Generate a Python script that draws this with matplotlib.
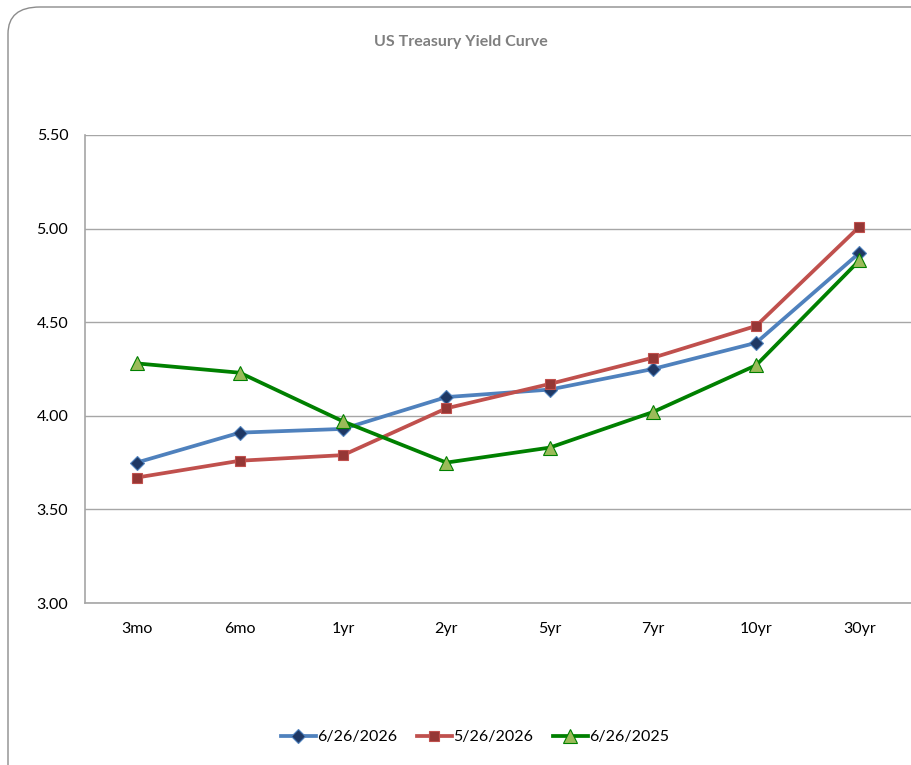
import numpy as np
import matplotlib
matplotlib.use('Agg')
import matplotlib.pyplot as plt
from matplotlib.patches import FancyBboxPatch

plt.rcParams['font.family'] = ['Lato', 'DejaVu Sans']

# tenors and yields
tenors = ['3mo', '6mo', '1yr', '2yr', '5yr', '7yr', '10yr', '30yr']
y_jun26 = [3.75, 3.91, 3.93, 4.10, 4.14, 4.25, 4.39, 4.87]
y_may26 = [3.67, 3.76, 3.79, 4.04, 4.17, 4.31, 4.48, 5.01]
y_jun25 = [4.28, 4.23, 3.97, 3.75, 3.83, 4.02, 4.27, 4.83]
yticks = [3.00, 3.50, 4.00, 4.50, 5.00, 5.50]

fig = plt.figure(figsize=(9.11, 7.65), dpi=100)

# rounded chart border (cut off on the right/bottom like the screenshot)
border = FancyBboxPatch((8 / 911, -0.05), 1.2, 1 - 7 / 765 + 0.05,
                        boxstyle='round,pad=0,rounding_size=0.035',
                        transform=fig.transFigure, fill=False,
                        edgecolor='#8c8c8c', linewidth=1.0)
fig.patches.append(border)

ax = fig.add_axes([85 / 911, 1 - 603 / 765, 826 / 911, 468 / 765])
x = np.arange(len(tenors))

ax.plot(x, y_jun26, color='#4F81BD', lw=2.7, marker='D', ms=7,
        mfc='#1F3864', mec='#4F81BD', mew=0.8, label='6/26/2026', zorder=3)
ax.plot(x, y_may26, color='#C0504D', lw=2.7, marker='s', ms=7.5,
        mfc='#953735', mec='#C0504D', mew=0.8, label='5/26/2026', zorder=3)
ax.plot(x, y_jun25, color='#008000', lw=2.7, marker='^', ms=10,
        mfc='#9BBB59', mec='#008000', mew=0.8, label='6/26/2025', zorder=3)

ax.set_xlim(-0.5, len(tenors) - 0.5)
ax.set_ylim(3.0, 5.5)
ax.set_yticks(yticks)
ax.set_yticklabels([f'{v:.2f}' for v in yticks])
ax.set_xticks(x)
ax.set_xticklabels(tenors)
ax.tick_params(axis='both', length=0, labelsize=11.5, colors='black')
ax.tick_params(axis='y', pad=12)
ax.tick_params(axis='x', pad=14)
ax.grid(axis='y', color='#a6a6a6', lw=1.0)
ax.set_axisbelow(True)
for s in ['top', 'right']:
    ax.spines[s].set_visible(False)
for s in ['left', 'bottom']:
    ax.spines[s].set_color('#a6a6a6')
    ax.spines[s].set_linewidth(1.2)

fig.text(461 / 911, 1 - 42 / 765, 'US Treasury Yield Curve', ha='center', va='center',
         fontsize=11.5, fontweight='bold', color='#7f7f7f')

fig.legend(loc='center', bbox_to_anchor=(475 / 911, 1 - 737 / 765), ncol=3,
           frameon=False, fontsize=11.5, handlelength=2.2, handletextpad=0.1,
           columnspacing=1.2)

fig.savefig('out.png', dpi=100)
